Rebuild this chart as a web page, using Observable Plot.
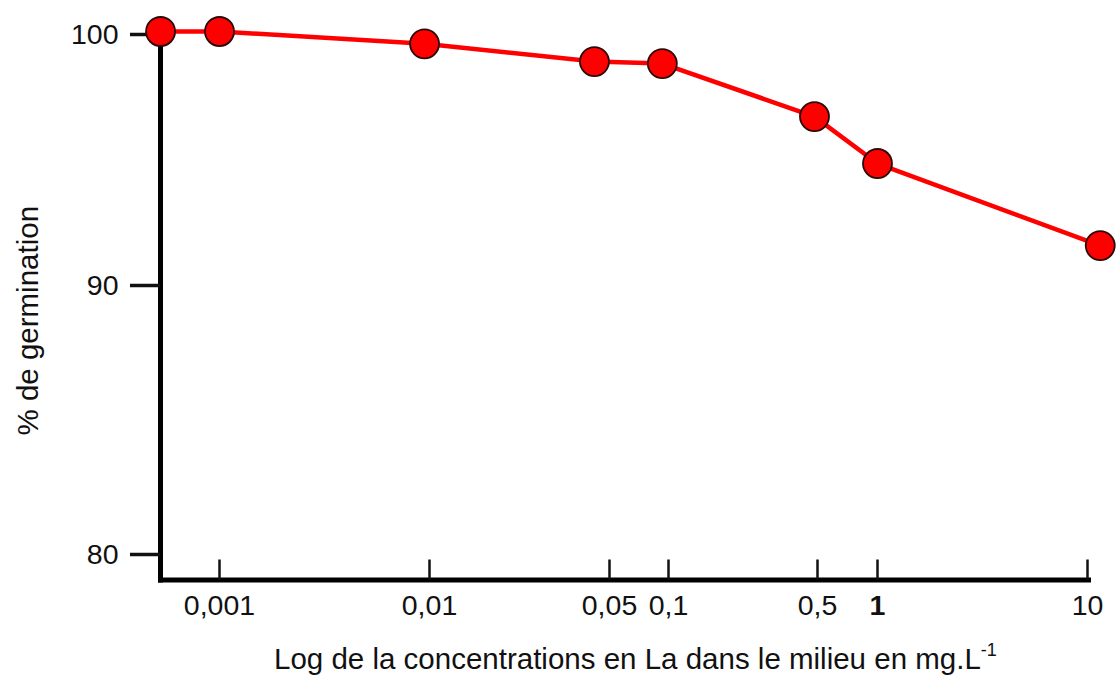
<!DOCTYPE html>
<html>
<head>
<meta charset="utf-8">
<script src="https://cdn.jsdelivr.net/npm/d3@7"></script>
<script src="https://cdn.jsdelivr.net/npm/@observablehq/plot@0.6"></script>
<style>
  html, body { margin: 0; padding: 0; background: #fff; }
  body { width: 1119px; height: 675px; overflow: hidden; font-family: "Liberation Sans", Arial, sans-serif; }
  #caption { font-size: 29.5px; line-height: 30px; margin-top: 4px; padding-left: 274px; color: #111; white-space: nowrap; }
  #caption .sup { font-size: 18px; position: relative; top: -13px; }
</style>
</head>
<body>
<div id="chart"></div>
<div id="caption">Log de la concentrations en La dans le milieu en mg.L<span class="sup">-1</span></div>
<script>
// Data
const concentrations = [0.000524, 0.001, 0.00947, 0.0437, 0.093, 0.484, 1, 11.5];
const germination   = [100.12, 100.12, 99.63, 98.92, 98.84, 96.73, 94.86, 91.59];

const xTicks = [0.001, 0.01, 0.05, 0.1, 0.5, 1, 10];
const xTickLabels = ["0,001", "0,01", "0,05", "0,1", "0,5", "1", "10"];
const yTicks = [80, 90, 100];
const yTickLabels = ["80", "90", "100"];
const yLabel = "% de germination";

const data = concentrations.map((c, i) => ({c, g: germination[i]}));
const tickRows = xTicks.map((t, i) => ({t, label: xTickLabels[i]}));
const font = "Liberation Sans, Arial, sans-serif";

const chart = Plot.plot({
  width: 1119,
  height: 640,
  marginLeft: 160,
  marginRight: 31,
  marginTop: 34,
  marginBottom: 60.5,
  style: {fontFamily: font, color: "#111", background: "#fff"},
  x: {type: "log", domain: xTicks, range: [219, 429, 609, 668, 817, 877, 1087]},
  y: {type: "linear", domain: yTicks, range: [554, 285, 34]},
  marks: [
    // axis lines
    Plot.frame({anchor: "left", stroke: "#000", strokeWidth: 5, strokeLinecap: "square"}),
    Plot.frame({anchor: "bottom", stroke: "#000", strokeWidth: 5, strokeLinecap: "square"}),
    // y axis ticks + labels
    Plot.axisY({ticks: yTicks, tickSize: 30, tickPadding: 12, strokeWidth: 3.5, fontSize: 28.5, label: null,
      tickFormat: (d) => yTickLabels[yTicks.indexOf(d)]}),
    // x ticks pointing inward
    Plot.axisX({ticks: xTicks, tickSize: 20, dy: -20, strokeWidth: 2.5, tickFormat: () => "", label: null}),
    // x tick labels
    Plot.text(tickRows.filter((d) => d.t !== 1), {x: "t", text: "label", frameAnchor: "bottom", lineAnchor: "top", dy: 15, fontSize: 28.5, fill: "#111"}),
    Plot.text(tickRows.filter((d) => d.t === 1), {x: "t", text: "label", frameAnchor: "bottom", lineAnchor: "top", dy: 15, fontSize: 28.5, fontWeight: "bold", fill: "#111"}),
    // y axis title
    Plot.text([yLabel], {text: (d) => d, frameAnchor: "left", textAnchor: "middle", rotate: -90, dx: -132, dy: 13.5, fontSize: 29.5, fill: "#111"}),
    // series
    Plot.line(data, {x: "c", y: "g", stroke: "#ff0000", strokeWidth: 4.5}),
    Plot.dot(data, {x: "c", y: "g", r: 14.5, fill: "#ff0000", stroke: "#2a0808", strokeWidth: 1.8})
  ]
});
document.getElementById("chart").appendChild(chart);
</script>
</body>
</html>
